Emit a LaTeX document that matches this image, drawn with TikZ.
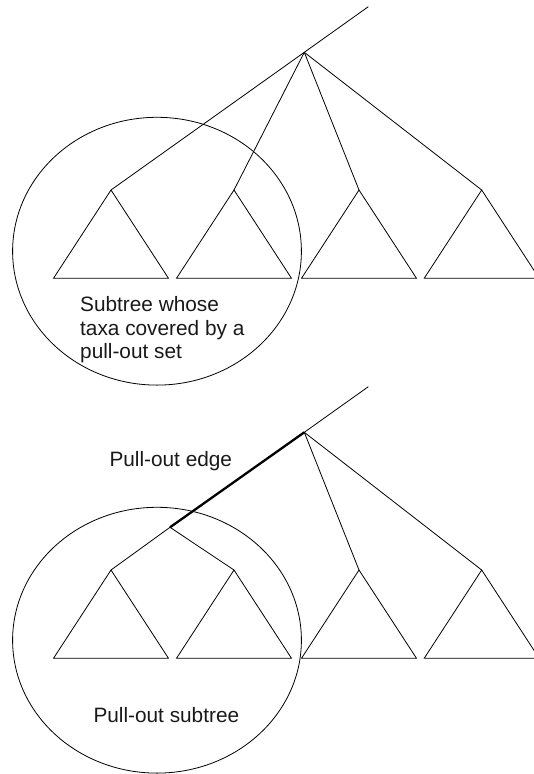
\documentclass[tikz,border=0pt]{standalone}
\usepackage{fontspec}
\setmainfont{Liberation Sans}
\begin{document}
\begin{tikzpicture}[x=1pt,y=-1pt,
  edge/.style={draw=black,line width=0.8pt},
  pulledge/.style={draw=black,line width=2.3pt},
  subtri/.style={draw=black,line width=0.8pt},
  cover/.style={draw=black,line width=0.8pt},
  lbl/.style={inner sep=0pt,anchor=base west,text=black!90,font=\fontsize{20.8}{23.3}\selectfont,align=left}]
\useasboundingbox (0,0) rectangle (533,774);
% ---------- top tree ----------
\coordinate (t0) at (368.3,6.7);
\coordinate (tr) at (304.3,52.3);
\foreach \i/\x in {1/111,2/234,3/359,4/481.7}{
  \coordinate (ta\i) at (\x,190);
  \coordinate (tl\i) at (\x-57.5,278.3);
  \coordinate (tR\i) at (\x+57.5,278.3);
  \draw[subtri] (ta\i) -- (tl\i) -- (tR\i) -- cycle;
}
\draw[edge] (t0) -- (tr);
\foreach \i in {1,2,3,4}{\draw[edge] (tr) -- (ta\i);}
\draw[cover] (157,251.2) ellipse [x radius=144.4pt, y radius=133.9pt];
% base anchor of a multi-line node is the last line's baseline
\node[lbl] (tx1) at (80,358.3) {Subtree whose\\taxa covered by a\\pull-out set};
% ---------- bottom tree ----------
\coordinate (b0) at (368.3,386.7);
\coordinate (br) at (304.3,432.3);
\coordinate (bp) at (170,527.3);
\foreach \i/\x in {1/111,2/234,3/359,4/481.7}{
  \coordinate (ba\i) at (\x,570);
  \coordinate (bl\i) at (\x-57.5,658.3);
  \coordinate (bR\i) at (\x+57.5,658.3);
  \draw[subtri] (ba\i) -- (bl\i) -- (bR\i) -- cycle;
}
\draw[edge] (b0) -- (br);
\draw[pulledge] (br) -- (bp);
\draw[edge] (br) -- (ba3);
\draw[edge] (br) -- (ba4);
\draw[edge] (bp) -- (ba1);
\draw[edge] (bp) -- (ba2);
\draw[cover] (157,640.2) ellipse [x radius=144.4pt, y radius=132.9pt];
\node[lbl] (tx2) at (109.3,466.7) {Pull-out edge};
\node[lbl] (tx3) at (93.3,722.7) {Pull-out subtree};
\end{tikzpicture}
\end{document}
